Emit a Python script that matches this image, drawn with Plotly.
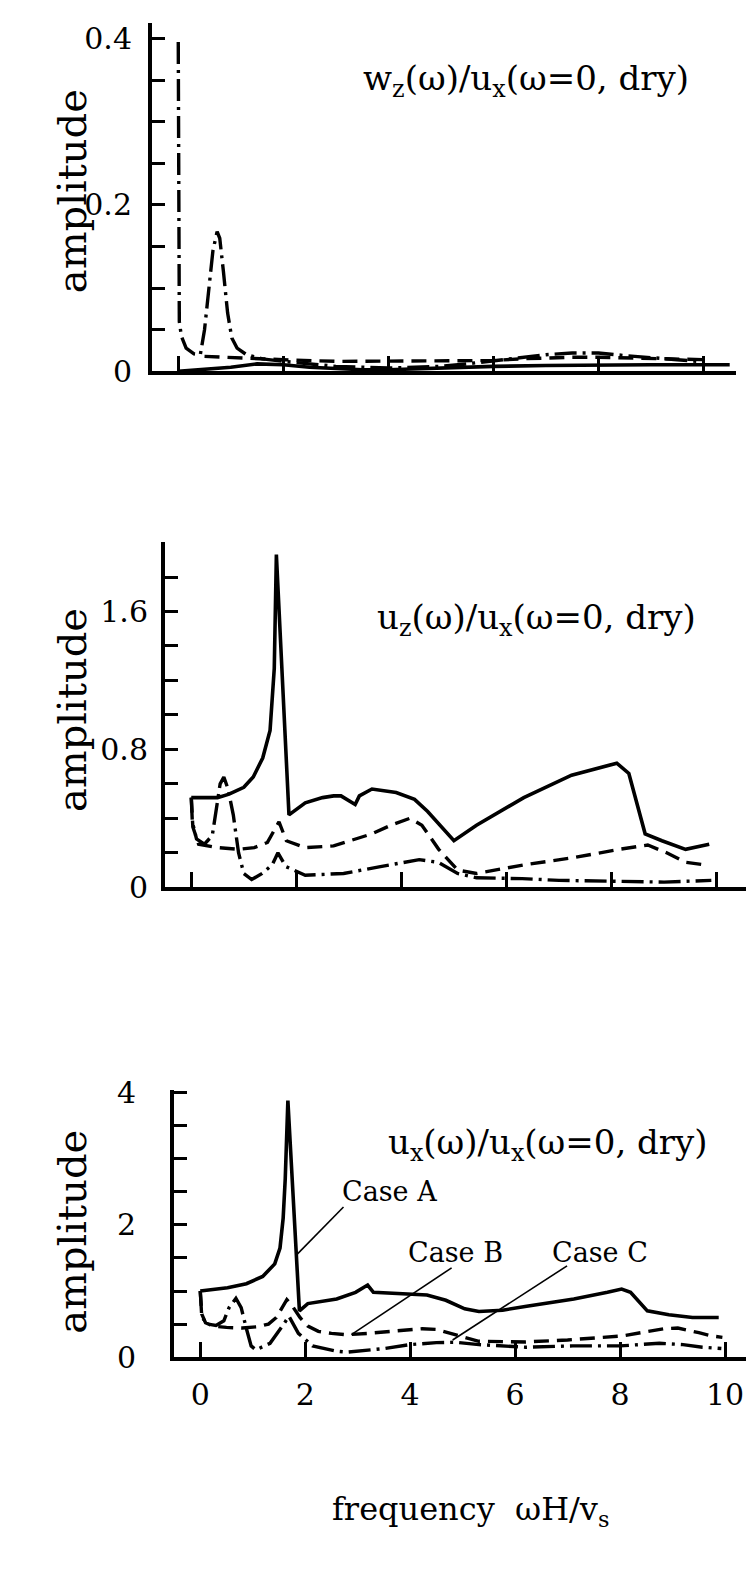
import plotly.graph_objects as go

# ---------------- data ----------------
# top panel: w_z(omega)/u_x(omega=0, dry)
top_A_x = [0, 0.5, 1.0, 1.5, 2.0, 2.5, 3.0, 3.5, 4.0, 4.5, 5.0, 6.0, 7.0, 8.0, 9.0, 10.0, 10.5]
top_A_y = [0.0, 0.002, 0.005, 0.009, 0.008, 0.005, 0.003, 0.002, 0.002, 0.003, 0.005, 0.006, 0.007, 0.008, 0.008, 0.008, 0.008]
top_B_x = [0.5, 0.8, 1.2, 2.0, 3.0, 4.0, 5.0, 6.0, 6.5, 7.0, 7.5, 8.0, 8.5, 9.0, 9.5, 10.0]
top_B_y = [0.018, 0.017, 0.016, 0.014, 0.012, 0.012, 0.012, 0.013, 0.015, 0.016, 0.017, 0.017, 0.016, 0.015, 0.014, 0.014]
top_C_x = [0.0, 0.02, 0.06, 0.15, 0.3, 0.42, 0.5, 0.58, 0.66, 0.74, 0.79, 0.86, 0.94, 1.02, 1.12, 1.3, 1.6, 2.0,
           2.5, 3.0, 4.0, 5.0, 5.5, 6.0, 6.5, 7.0, 7.5, 8.0, 8.5, 9.0, 9.5, 9.9]
top_C_y = [0.396, 0.06, 0.042, 0.028, 0.021, 0.02, 0.05, 0.1, 0.145, 0.168, 0.16, 0.12, 0.07, 0.04, 0.028, 0.02,
           0.015, 0.012, 0.009, 0.006, 0.004, 0.006, 0.009, 0.013, 0.017, 0.02, 0.022, 0.022, 0.019, 0.016, 0.014, 0.012]

# middle panel: u_z(omega)/u_x(omega=0, dry)
mid_A_x = [0, 0.5, 0.72, 1.0, 1.18, 1.36, 1.5, 1.58, 1.62, 1.86, 2.17, 2.5, 2.71, 2.85, 3.12, 3.2, 3.44, 3.9,
           4.25, 4.5, 5.0, 5.43, 6.33, 7.24, 8.1, 8.33, 8.64, 8.96, 9.41, 9.86]
mid_A_y = [0.52, 0.52, 0.54, 0.58, 0.64, 0.75, 0.91, 1.27, 1.93, 0.42, 0.49, 0.52, 0.53, 0.53, 0.48, 0.53, 0.57,
           0.55, 0.51, 0.44, 0.27, 0.36, 0.52, 0.65, 0.72, 0.66, 0.31, 0.27, 0.22, 0.25]
mid_B_x = [0, 0.03, 0.14, 0.5, 0.9, 1.2, 1.45, 1.67, 1.81, 2.17, 2.71, 3.44, 3.8, 4.16, 4.39, 4.71, 5.07, 5.43,
           6.33, 7.24, 8.15, 8.69, 9.05, 9.41, 9.77]
mid_B_y = [0.52, 0.35, 0.25, 0.23, 0.22, 0.23, 0.26, 0.38, 0.27, 0.23, 0.24, 0.31, 0.36, 0.40, 0.36, 0.22, 0.10,
           0.08, 0.13, 0.17, 0.22, 0.245, 0.2, 0.145, 0.13]
mid_C_x = [0, 0.02, 0.1, 0.25, 0.4, 0.48, 0.55, 0.62, 0.7, 0.8, 0.9, 1.0, 1.15, 1.35, 1.54, 1.65, 1.8, 2.17,
           2.9, 3.6, 4.34, 4.7, 5.07, 5.43, 6.3, 7.0, 8.0, 9.0, 9.9]
mid_C_y = [0.52, 0.38, 0.28, 0.25, 0.3, 0.45, 0.6, 0.64, 0.57, 0.42, 0.2, 0.08, 0.045, 0.08, 0.13, 0.2, 0.12,
           0.07, 0.08, 0.12, 0.16, 0.145, 0.08, 0.055, 0.05, 0.04, 0.035, 0.03, 0.04]

# bottom panel: u_x(omega)/u_x(omega=0, dry)
bot_A_x = [0, 0.52, 0.88, 1.19, 1.42, 1.52, 1.58, 1.62, 1.67, 1.89, 2.05, 2.6, 2.96, 3.19, 3.3, 3.77, 4.32,
           4.68, 5.04, 5.31, 5.76, 6.22, 7.12, 7.76, 8.03, 8.2, 8.52, 8.93, 9.38, 9.88]
bot_A_y = [1.0, 1.05, 1.11, 1.22, 1.41, 1.65, 2.1, 2.7, 3.88, 0.70, 0.81, 0.88, 0.98, 1.09, 0.98, 0.96, 0.94,
           0.86, 0.73, 0.69, 0.71, 0.77, 0.88, 0.98, 1.03, 0.98, 0.70, 0.64, 0.60, 0.60]
bot_B_x = [0, 0.03, 0.1, 0.25, 0.5, 0.8, 1.1, 1.3, 1.45, 1.58, 1.65, 1.75, 1.9, 2.05, 2.25, 2.5, 2.78, 3.2,
           3.7, 4.23, 4.5, 4.77, 5.0, 5.31, 6.2, 7.0, 8.03, 8.5, 8.84, 9.1, 9.29, 9.5, 9.75, 9.95]
bot_B_y = [1.0, 0.65, 0.52, 0.47, 0.45, 0.44, 0.46, 0.5, 0.6, 0.78, 0.87, 0.78, 0.6, 0.47, 0.39, 0.36, 0.34,
           0.36, 0.4, 0.43, 0.42, 0.36, 0.3, 0.24, 0.23, 0.26, 0.32, 0.38, 0.43, 0.44, 0.41, 0.37, 0.32, 0.3]
bot_C_x = [0, 0.03, 0.15, 0.3, 0.45, 0.55, 0.68, 0.78, 0.88, 0.97, 1.06, 1.33, 1.6, 1.69, 1.87, 2.14, 2.6,
           2.8, 3.5, 4.0, 4.5, 4.86, 5.31, 6.2, 7.1, 8.0, 8.75, 9.2, 9.57, 9.93]
bot_C_y = [1.0, 0.6, 0.5, 0.48, 0.55, 0.75, 0.89, 0.75, 0.43, 0.17, 0.11, 0.21, 0.51, 0.62, 0.36, 0.17, 0.09,
           0.075, 0.13, 0.19, 0.22, 0.225, 0.19, 0.15, 0.17, 0.17, 0.21, 0.19, 0.15, 0.13]

x_tick_vals = [0, 2, 4, 6, 8, 10]
x_tick_text = ["0", "2", "4", "6", "8", "10"]
top_ytick_vals = [0, 0.05, 0.1, 0.15, 0.2, 0.25, 0.3, 0.35, 0.4]
top_ytick_text = ["0", "", "", "", "0.2", "", "", "", "0.4"]
mid_ytick_vals = [0, 0.2, 0.4, 0.6, 0.8, 1.0, 1.2, 1.4, 1.6, 1.8]
mid_ytick_text = ["0", "", "", "", "0.8", "", "", "", "1.6", ""]
bot_ytick_vals = [0, 0.5, 1.0, 1.5, 2.0, 2.5, 3.0, 3.5, 4.0]
bot_ytick_text = ["0", "", "", "", "2", "", "", "", "4"]

titles = ["w<sub>z</sub>(ω)/u<sub>x</sub>(ω=0, dry)",
          "u<sub>z</sub>(ω)/u<sub>x</sub>(ω=0, dry)",
          "u<sub>x</sub>(ω)/u<sub>x</sub>(ω=0, dry)"]
case_labels = ["Case A", "Case B", "Case C"]

# ---------------- layout geometry ----------------
W, H = 746, 1569
FONT = "DejaVu Serif"


def py(p):
    return (H - p) / H


def px(p):
    return p / W


# (left px, right px, top px, bottom px, xmax, ymax, y-label standoff)
panels = [
    (152, 736, 8, 364, 10.62, 0.419, 10),
    (165, 746, 538, 891, 10.56, 2.005, 7),
    (174, 746, 1098, 1371, 10.4, 4.04, 28),
]

fig = go.Figure()

styles = {
    "A": dict(color="black", width=3.6),
    "B": dict(color="black", width=3.4, dash="15px,8px"),
    "C": dict(color="black", width=3.4, dash="22px,6px,3px,6px"),
}
series = [
    [(top_A_x, top_A_y, "A"), (top_B_x, top_B_y, "B"), (top_C_x, top_C_y, "C")],
    [(mid_A_x, mid_A_y, "A"), (mid_B_x, mid_B_y, "B"), (mid_C_x, mid_C_y, "C")],
    [(bot_A_x, bot_A_y, "A"), (bot_B_x, bot_B_y, "B"), (bot_C_x, bot_C_y, "C")],
]
for i, group in enumerate(series):
    sfx = "" if i == 0 else str(i + 1)
    for xs, ys, k in group:
        fig.add_trace(go.Scatter(x=xs, y=ys, mode="lines", line=styles[k],
                                 xaxis="x" + sfx, yaxis="y" + sfx, showlegend=False,
                                 hoverinfo="skip"))

ytick_sets = [(top_ytick_vals, top_ytick_text), (mid_ytick_vals, mid_ytick_text),
              (bot_ytick_vals, bot_ytick_text)]
layout = {}
for i, (l, r, t, b, xmax, ymax, stand) in enumerate(panels):
    sfx = "" if i == 0 else str(i + 1)
    layout["xaxis" + sfx] = dict(
        domain=[px(l), px(r)], range=[-0.5, xmax], anchor="y" + sfx,
        showline=True, linecolor="black", linewidth=4, showgrid=False, zeroline=False,
        ticks="inside", ticklen=15, tickwidth=2.5, tickcolor="black",
        tickvals=x_tick_vals, ticktext=x_tick_text, showticklabels=(i == 2),
        ticklabelstandoff=8,
        tickfont=dict(family=FONT, size=30, color="black"),
    )
    tv, tt = ytick_sets[i]
    layout["yaxis" + sfx] = dict(
        domain=[py(b), py(t)], range=[0, ymax], anchor="x" + sfx,
        showline=True, linecolor="black", linewidth=4, showgrid=False, zeroline=False,
        ticks="inside", ticklen=13, tickwidth=2.5, tickcolor="black",
        tickvals=tv, ticktext=tt, ticklabelstandoff=stand,
        tickfont=dict(family=FONT, size=30, color="black"),
    )

annotations = []
# y axis titles
for yc in (180, 710, 1243):
    annotations.append(dict(text="amplitude", x=px(72), y=py(yc), xref="paper", yref="paper",
                            showarrow=False, textangle=-90, xanchor="center", yanchor="middle",
                            font=dict(family=FONT, size=40, color="black")))
# panel titles
for (xc, yc), txt in zip([(526, 67), (536, 617), (548, 1154)], titles):
    annotations.append(dict(text=txt, x=px(xc), y=py(yc), xref="paper", yref="paper",
                            showarrow=False, xanchor="center", yanchor="middle",
                            font=dict(family=FONT, size=34, color="black")))
# x axis title
annotations.append(dict(text="frequency  ωH/v<sub>s</sub>", x=px(470), y=py(1528), xref="paper",
                        yref="paper", showarrow=False, xanchor="center", yanchor="middle",
                        font=dict(family=FONT, size=32, color="black")))
# case labels (data coords of bottom panel)
for (cx, cy), txt in zip([(3.61, 2.5), (4.86, 1.58), (7.62, 1.58)], case_labels):
    annotations.append(dict(text=txt, x=cx, y=cy, xref="x3", yref="y3", showarrow=False,
                            xanchor="center", yanchor="middle",
                            font=dict(family=FONT, size=27, color="black")))

shapes = []
for (x0, y0, x1, y1) in [(2.73, 2.27, 1.84, 1.55), (4.79, 1.35, 2.88, 0.34), (6.99, 1.38, 4.81, 0.26)]:
    shapes.append(dict(type="line", x0=x0, y0=y0, x1=x1, y1=y1, xref="x3", yref="y3",
                       line=dict(color="black", width=1.6)))

fig.update_layout(
    width=W, height=H, margin=dict(l=0, r=0, t=0, b=0),
    paper_bgcolor="white", plot_bgcolor="white",
    annotations=annotations, shapes=shapes, showlegend=False,
    **layout,
)

fig.write_html("out.html", config={"displayModeBar": False},
               post_script="document.body.style.margin='0';")
